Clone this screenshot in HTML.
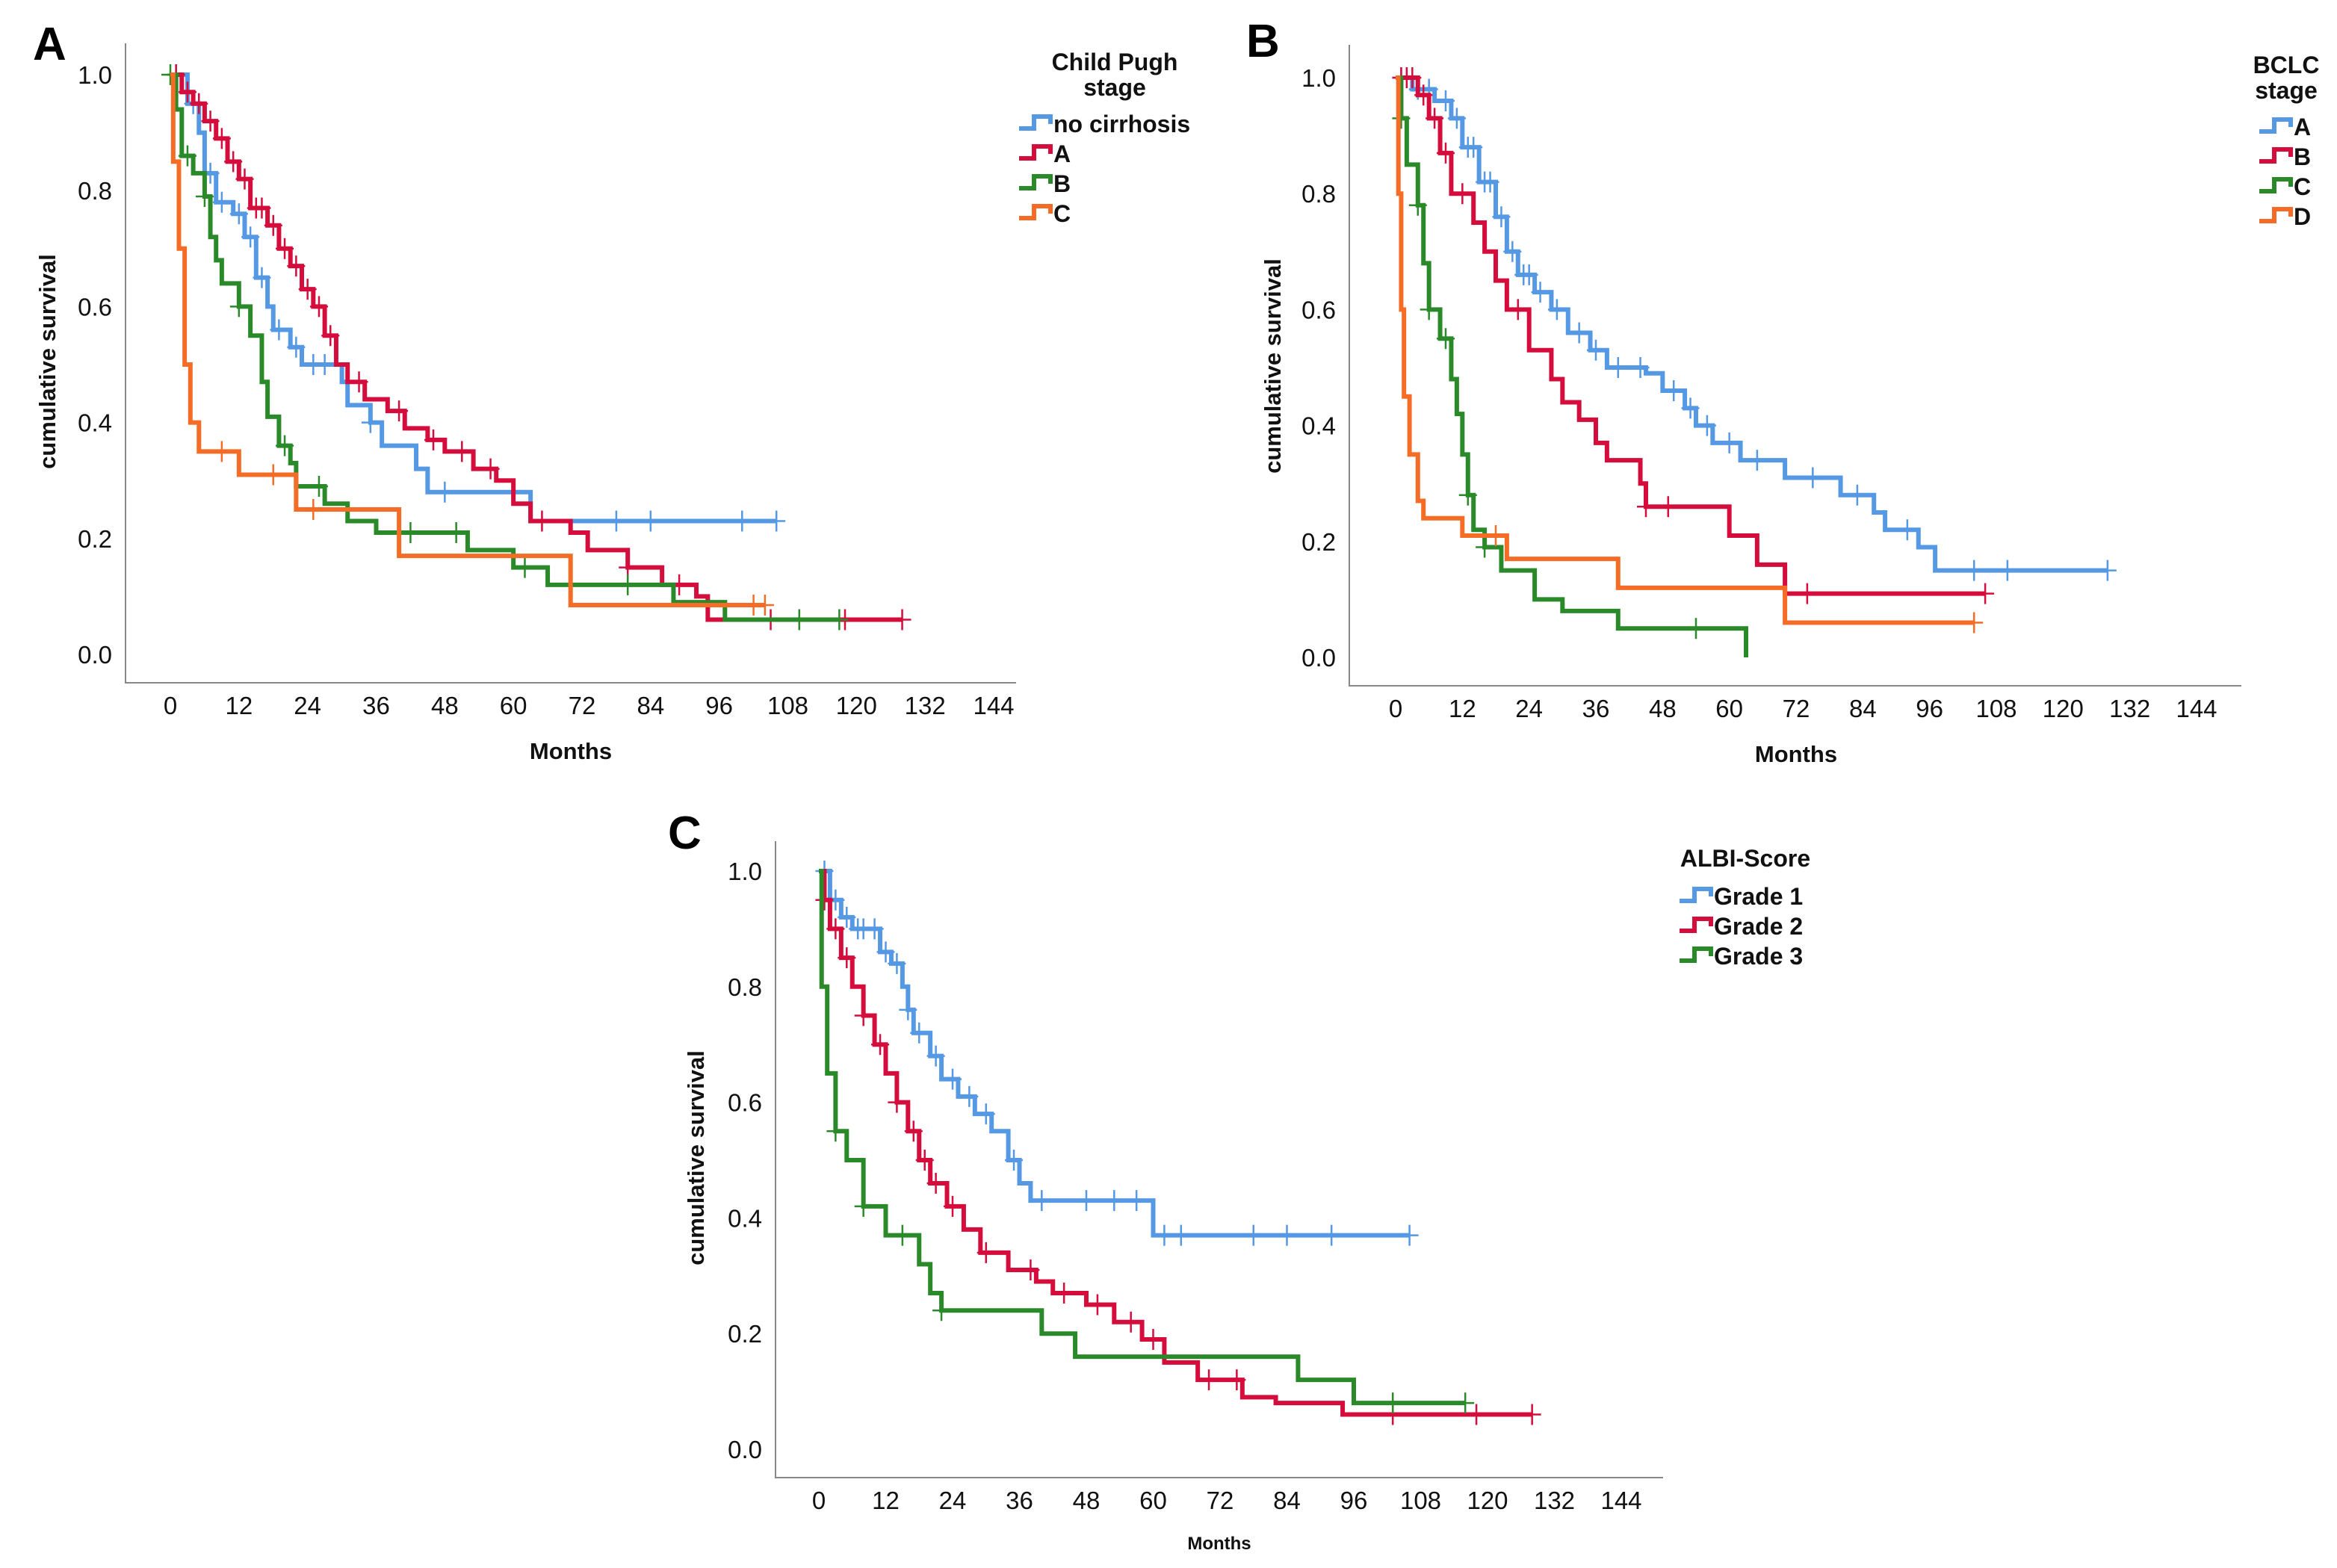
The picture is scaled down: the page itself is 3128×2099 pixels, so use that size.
<!DOCTYPE html>
<html><head><meta charset="utf-8"><style>
html,body{margin:0;padding:0;background:#fff;}
svg{display:block;font-family:"Liberation Sans",sans-serif;}
</style></head><body>
<svg id="fig" width="3128" height="2099" viewBox="0 0 3128 2099" xmlns="http://www.w3.org/2000/svg"></svg>
<script>
// ---- Panel A data (Child Pugh) ----
const aNames = ["no cirrhosis","A","B","C"];
const aBlue = [[0,1],[3,0.95],[5,0.9],[6,0.83],[8,0.78],[11,0.76],[13,0.72],[15,0.65],[17,0.6],[18,0.56],[21,0.53],[23,0.5],[30,0.47],[31,0.43],[35,0.4],[37,0.36],[43,0.32],[45,0.28],[63,0.23],[106,0.23]];
const aRed = [[0,1],[2,0.97],[4,0.95],[6,0.92],[8,0.89],[10,0.85],[12,0.82],[14,0.77],[17,0.74],[19,0.7],[21,0.67],[23,0.63],[25,0.6],[27,0.55],[29,0.5],[31,0.47],[34,0.44],[38,0.42],[41,0.39],[45,0.37],[48,0.35],[53,0.32],[57,0.3],[60,0.26],[63,0.23],[70,0.21],[73,0.18],[80,0.15],[86,0.12],[92,0.1],[94,0.06],[128,0.06]];
const aGreen = [[0,1],[1,0.94],[2,0.86],[4,0.83],[6,0.79],[7,0.72],[8,0.68],[9,0.64],[12,0.6],[14,0.55],[16,0.47],[17,0.41],[19,0.36],[21,0.33],[22,0.29],[27,0.26],[31,0.23],[36,0.21],[52,0.18],[60,0.15],[66,0.12],[88,0.09],[97,0.06],[117,0.06]];
const aOrange = [[0,1],[0.5,0.85],[1.5,0.7],[2.5,0.5],[3.5,0.4],[5,0.35],[12,0.31],[22,0.25],[40,0.17],[70,0.085],[104,0.085]];
const aBlueCens = [1,4,7,9,12,14,16,19,22,25,27,35,48,60,78,84,100,106];
const aRedCens = [1,3,5,7,9,11,13,15,16,18,20,22,24,26,28,33,40,46,51,56,65,80,89,105,118,128];
const aGreenCens = [0,3,6,12,20,26,42,50,62,80,110,117];
const aOrangeCens = [9,18,25,102,104];
// ---- Panel B data (BCLC) ----
const bNames = ["A","B","C","D"];
const bBlue = [[0,1],[3,0.98],[7,0.96],[10,0.93],[12,0.88],[15,0.82],[18,0.76],[20,0.7],[22,0.66],[25,0.63],[28,0.6],[31,0.56],[35,0.53],[38,0.5],[45,0.49],[48,0.46],[52,0.43],[54,0.4],[57,0.37],[62,0.34],[70,0.31],[80,0.28],[86,0.25],[88,0.22],[94,0.19],[97,0.15],[128,0.15]];
const bRed = [[0,1],[4,0.97],[6,0.93],[8,0.87],[10,0.8],[14,0.75],[16,0.7],[18,0.65],[20,0.6],[24,0.53],[28,0.48],[30,0.44],[33,0.41],[36,0.37],[38,0.34],[44,0.3],[45,0.26],[60,0.21],[65,0.16],[70,0.11],[106,0.11]];
const bGreen = [[0,1],[1,0.93],[2,0.85],[4,0.78],[5,0.68],[6,0.6],[8,0.55],[10,0.48],[11,0.42],[12,0.35],[13,0.28],[14,0.22],[16,0.19],[19,0.15],[25,0.1],[30,0.08],[40,0.05],[63,0.05],[63,0.0]];
const bOrange = [[0,1],[0.5,0.8],[1,0.6],[1.5,0.45],[2.5,0.35],[4,0.27],[5,0.24],[12,0.21],[20,0.17],[40,0.12],[70,0.06],[104,0.06]];
const bBlueCens = [1,2,4,6,9,11,13,14,16,17,19,21,23,24,26,29,33,36,40,44,50,53,56,60,65,75,83,92,104,110,128];
const bRedCens = [1,2,3,5,7,9,12,22,45,49,74,106];
const bGreenCens = [1,4,6,9,13,16,54];
const bOrangeCens = [18,104];
// ---- Panel C data (ALBI) ----
const cNames = ["Grade 1","Grade 2","Grade 3"];
const cBlue = [[0,1],[2,0.95],[4,0.92],[6,0.9],[11,0.86],[13,0.84],[15,0.8],[16,0.76],[17,0.72],[20,0.68],[22,0.64],[25,0.61],[28,0.58],[31,0.55],[34,0.5],[36,0.46],[38,0.43],[60,0.37],[106,0.37]];
const cRed = [[0,1],[1,0.95],[2,0.9],[4,0.85],[6,0.8],[8,0.75],[10,0.7],[12,0.65],[14,0.6],[16,0.55],[18,0.5],[20,0.46],[23,0.42],[26,0.38],[29,0.34],[34,0.31],[39,0.29],[42,0.27],[48,0.25],[53,0.22],[58,0.19],[62,0.15],[68,0.12],[76,0.09],[82,0.08],[94,0.06],[128,0.06]];
const cGreen = [[0,1],[0.5,0.8],[1.5,0.65],[3,0.55],[5,0.5],[8,0.42],[12,0.37],[18,0.32],[20,0.27],[22,0.24],[40,0.2],[46,0.16],[86,0.12],[96,0.08],[116,0.08]];
const cBlueCens = [1,2,3,5,7,8,10,12,14,16,18,21,24,27,30,35,40,48,53,57,62,65,78,84,92,106];
const cRedCens = [1,3,5,8,11,14,17,19,21,24,30,38,44,50,56,60,70,75,103,118,128];
const cGreenCens = [3,8,15,22,103,116];
const xTicks = [0,12,24,36,48,60,72,84,96,108,120,132,144];
const yTicks = [0,0.2,0.4,0.6,0.8,1.0];

const COL = {blue:"#5598e4",red:"#d40d3c",green:"#2a8a2a",orange:"#f46c25"};
const NS = "http://www.w3.org/2000/svg";
const svg = document.getElementById('fig');
function mk(tag, attrs, parent){const e=document.createElementNS(NS,tag);for(const k in attrs)e.setAttribute(k,attrs[k]);(parent||svg).appendChild(e);return e;}
function stepVal(pts,t){let v=pts[0][1];for(const p of pts){if(p[0]<=t)v=p[1];else break;}return v;}

function panel(cfg){
  const g = mk('g',{});
  
  
  const X = t => cfg.x0 + t*(cfg.x144-cfg.x0)/144;
  const Y = s => cfg.y0 - s*(cfg.y0-cfg.y1);
  const ax = mk('path',{d:`M${cfg.ax},${cfg.top} V${cfg.bot} H${cfg.right}`,fill:"none",stroke:"#888",'stroke-width':2},g);
  
  
  xTicks.forEach(t=>{const e=mk('text',{x:X(t),y:cfg.bot+42,'text-anchor':'middle','font-size':33,fill:'#111'},g);e.textContent=t;
    
    });
  yTicks.forEach(s=>{const e=mk('text',{x:cfg.ax-18,y:Y(s)+12,'text-anchor':'end','font-size':33,fill:'#111'},g);e.textContent=s.toFixed(1);
    
    });
  const xt = mk('text',{x:cfg.mx,y:cfg.my,'text-anchor':'middle','font-size':cfg.mfs||31,'font-weight':'bold',fill:'#111'},g);xt.textContent="Months";
  
  
  const yt = mk('text',{x:0,y:0,transform:`translate(${cfg.yx},${cfg.yy}) rotate(-90)`,'text-anchor':'middle','font-size':31,'font-weight':'bold',fill:'#111'},g);yt.textContent="cumulative survival";
  
  
  const lt = mk('text',{x:cfg.lx,y:cfg.ly,'font-size':62,'font-weight':'bold',fill:'#000'},g);lt.textContent=cfg.letter;
  
  
  cfg.series.forEach((sr,i)=>{
    let d=`M${X(sr.pts[0][0])},${Y(sr.pts[0][1])}`;
    for(let k=1;k<sr.pts.length;k++){d+=` H${X(sr.pts[k][0])} V${Y(sr.pts[k][1])}`;}
    const p=mk('path',{d:d,fill:'none',stroke:sr.c,'stroke-width':6,'stroke-linejoin':'miter'},g);
    
    
    sr.cens.forEach(t=>{const cx=X(t),cy=Y(stepVal(sr.pts,t));
      const m=mk('path',{d:`M${cx},${cy-14} V${cy+14} M${cx-12},${cy} H${cx+12}`,stroke:sr.c,'stroke-width':2.5,fill:'none'},g);
      
      });
  });
  cfg.ltitle.forEach((s,i)=>{const e=mk('text',{x:cfg.ltx,y:cfg.lty+i*34,'text-anchor':'middle','font-size':32,'font-weight':'bold',fill:'#111'},g);e.textContent=s;
    
    });
  cfg.series.forEach((sr,i)=>{
    const y=cfg.le0+i*cfg.lstep, x=cfg.lsx;
    const lg=mk('g',{},g);
    
    
    mk('path',{d:`M${x},${y+6} H${x+20} V${y-10} H${x+42} V${y}`,fill:'none',stroke:sr.c,'stroke-width':6},lg);
    const t=mk('text',{x:x+46,y:y+11,'font-size':32,'font-weight':'bold',fill:'#111'},lg);t.textContent=sr.n;
  });
}

panel({id:'a',letter:'A',lx:44,ly:80,x0:228,x144:1330,y0:876,y1:100,ax:168,top:58,bot:914,right:1360,
  mx:764,my:1016,yx:74,yy:484,ltitle:["Child Pugh","stage"],ltx:1492,lty:94,lsx:1364,le0:166,lstep:40,
  series:[{n:aNames[0],c:COL.blue,pts:aBlue,cens:aBlueCens},{n:aNames[1],c:COL.red,pts:aRed,cens:aRedCens},
          {n:aNames[2],c:COL.green,pts:aGreen,cens:aGreenCens},{n:aNames[3],c:COL.orange,pts:aOrange,cens:aOrangeCens}]});
panel({id:'b',letter:'B',lx:1668,ly:76,x0:1868,x144:2940,y0:880,y1:104,ax:1806,top:60,bot:918,right:3000,
  mx:2404,my:1020,yx:1714,yy:490,ltitle:["BCLC","stage"],ltx:3060,lty:98,lsx:3024,le0:170,lstep:40,
  series:[{n:bNames[0],c:COL.blue,pts:bBlue,cens:bBlueCens},{n:bNames[1],c:COL.red,pts:bRed,cens:bRedCens},
          {n:bNames[2],c:COL.green,pts:bGreen,cens:bGreenCens},{n:bNames[3],c:COL.orange,pts:bOrange,cens:bOrangeCens}]});
panel({id:'c',letter:'C',lx:894,ly:1136,x0:1096,x144:2170,y0:1940,y1:1166,ax:1038,top:1126,bot:1978,right:2226,
  mx:1632,my:2074,mfs:24,yx:942,yy:1550,ltitle:["ALBI-Score"],ltx:2336,lty:1160,lsx:2248,le0:1200,lstep:40,
  series:[{n:cNames[0],c:COL.blue,pts:cBlue,cens:cBlueCens},{n:cNames[1],c:COL.red,pts:cRed,cens:cRedCens},
          {n:cNames[2],c:COL.green,pts:cGreen,cens:cGreenCens}]});
</script>
</body></html>
